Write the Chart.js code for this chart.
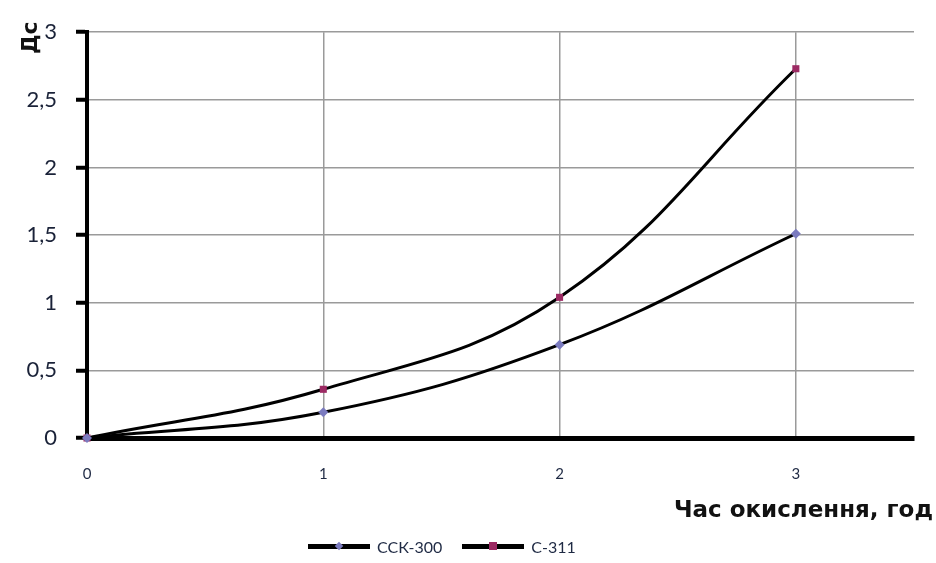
<!DOCTYPE html>
<html>
<head>
<meta charset="utf-8">
<script src="https://cdn.jsdelivr.net/npm/chart.js@4/dist/chart.umd.min.js"></script>
<style>
  html, body { margin: 0; padding: 0; background: #fff; }
  #wrap { position: relative; width: 936px; height: 563px; }
  #chart { position: absolute; left: 0; top: 0; }
  .ytitle { position: absolute; left: 17px; top: 54px; font: bold 22px "DejaVu Sans", sans-serif;
            transform: rotate(-90deg); transform-origin: left top; color: #111; }
  .xtitle { position: absolute; right: 3px; top: 496px; font: bold 23px "DejaVu Sans", sans-serif; color: #111; }
  .legend { position: absolute; top: 537px; left: 308px; font: 16px Lato, "Open Sans", sans-serif; color: #1f2a44;
            display: flex; align-items: center; }
  .legend .item { display: flex; align-items: center; margin-right: 20px; }
  .legend .swatch { position: relative; width: 62px; height: 5px; background: #000; margin-right: 7px; }
  .legend .mk { position: absolute; left: 27px; top: -2px; width: 8px; height: 8px; }
</style>
</head>
<body>
<div id="wrap">
  <canvas id="chart" width="936" height="563"></canvas>
  <div class="ytitle">Дс</div>
  <div class="xtitle">Час окислення, год</div>
  <div class="legend">
    <div class="item"><div class="swatch"><div class="mk" style="background:#7b7bbf;transform:rotate(45deg) scale(0.75)"></div></div>ССК-300</div>
    <div class="item"><div class="swatch"><div class="mk" style="background:#9c2a63"></div></div>С-311</div>
  </div>
</div>
<script>
// дані з графіка
const hours = [0, 1, 2, 3];
const ssk300 = [0, 0.19, 0.69, 1.51];
const c311 = [0, 0.36, 1.04, 2.73];
const yTicks = [0, 0.5, 1, 1.5, 2, 2.5, 3];

const toPts = (xs, ys) => xs.map((x, i) => ({ x: x, y: ys[i] }));

new Chart(document.getElementById("chart").getContext("2d"), {
  type: "line",
  data: {
    datasets: [{
      label: "ССК-300",
      data: toPts(hours, ssk300),
      borderColor: "#000",
      borderWidth: 3,
      tension: 0.4,
      pointStyle: "rectRot",
      pointRadius: 5,
      pointBackgroundColor: "#7b7bbf",
      pointBorderWidth: 0
    }, {
      label: "С-311",
      data: toPts(hours, c311),
      borderColor: "#000",
      borderWidth: 3,
      tension: 0.4,
      pointStyle: "rect",
      pointRadius: 5,
      pointBackgroundColor: "#9c2a63",
      pointBorderWidth: 0
    }]
  },
  options: {
    responsive: false,
    animation: false,
    clip: false,
    layout: { padding: { top: 30, right: 22, left: 0, bottom: 0 } },
    plugins: { legend: { display: false }, tooltip: { enabled: false } },
    scales: {
      x: {
        type: "linear",
        min: 0,
        max: 3.5,
        afterFit: s => { s.height = 125; },
        afterBuildTicks: s => { s.ticks = hours.map(v => ({ value: v })); },
        ticks: {
          padding: 27,
          font: { family: "Lato", size: 15 },
          color: "#1f2a44",
          callback: v => String(v)
        },
        grid: {
          color: ctx => (ctx.tick && ctx.tick.value > 0) ? "#9a9a9a" : "rgba(0,0,0,0)",
          lineWidth: 1.5,
          drawTicks: false
        },
        border: { color: "#000", width: 5 }
      },
      y: {
        min: 0,
        max: 3,
        afterFit: s => { s.width = 87; },
        afterBuildTicks: s => { s.ticks = yTicks.map(v => ({ value: v })); },
        ticks: {
          padding: 19,
          font: { family: "Lato", size: 22 },
          color: "#1a2238",
          callback: v => String(v).replace(".", ",")
        },
        grid: {
          color: ctx => (ctx.tick && ctx.tick.value > 0) ? "#9a9a9a" : "rgba(0,0,0,0)",
          lineWidth: 1.5,
          tickColor: "#000",
          tickWidth: 4,
          tickLength: 11
        },
        border: { color: "#000", width: 4 }
      }
    }
  }
});
</script>
</body>
</html>
